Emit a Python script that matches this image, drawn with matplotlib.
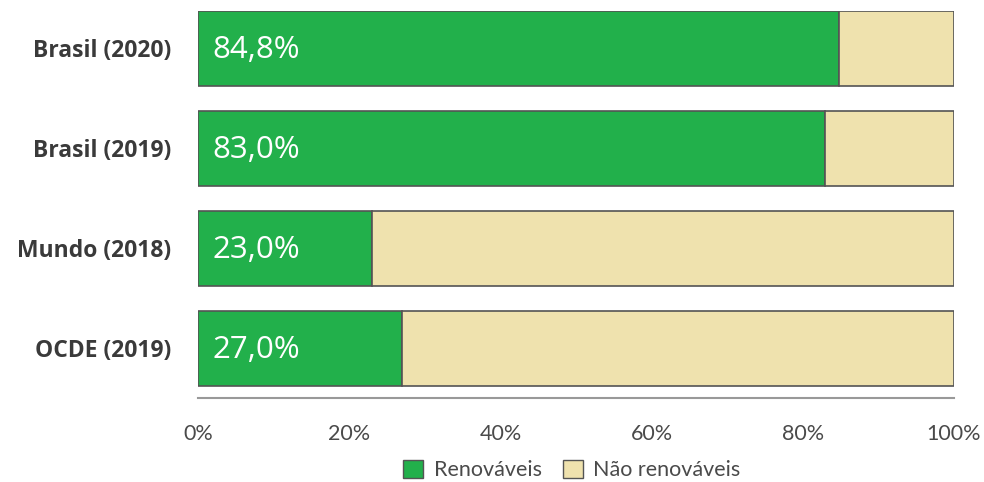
import matplotlib
matplotlib.use("Agg")
import matplotlib.pyplot as plt
from matplotlib.patches import Patch

# Participação de fontes renováveis na matriz elétrica
categories = ["Brasil (2020)", "Brasil (2019)", "Mundo (2018)", "OCDE (2019)"]
renovaveis = [84.8, 83.0, 23.0, 27.0]
nao_renovaveis = [100 - v for v in renovaveis]
value_labels = ["84,8%", "83,0%", "23,0%", "27,0%"]
tick_values = [0, 20, 40, 60, 80, 100]
tick_labels = ["0%", "20%", "40%", "60%", "80%", "100%"]
series_names = ["Renováveis", "Não renováveis"]

GREEN = "#22b04b"
BEIGE = "#efe2ae"
EDGE = "#545454"

fig = plt.figure(figsize=(9.84, 4.82), dpi=100)
ax = fig.add_axes([198 / 984, 1 - 398 / 482, (954 - 198) / 984, (398 - 11) / 482])

y = list(range(len(categories)))
ax.barh(y, renovaveis, height=0.75, color=GREEN, edgecolor=EDGE, linewidth=1.2)
ax.barh(y, nao_renovaveis, left=renovaveis, height=0.75, color=BEIGE,
        edgecolor=EDGE, linewidth=1.2)

for yi, txt in zip(y, value_labels):
    ax.text(1.9, yi + 0.02, txt, color="white", fontsize=22.5, family="Open Sans",
            va="center", ha="left")

ax.set_xlim(0, 100)
ax.set_ylim(3.495, -0.375)
ax.set_yticks(y)
ax.set_yticklabels(categories, fontsize=16.5, fontweight="bold",
                   family="Open Sans", color="#3a3a3a")
ax.set_xticks(tick_values)
ax.set_xticklabels(tick_labels, fontsize=15.5, family="Lato",
                   color="#4a4a4a")
ax.tick_params(axis="both", length=0)
ax.tick_params(axis="x", pad=19)
ax.tick_params(axis="y", pad=19)

for side in ["top", "right", "left"]:
    ax.spines[side].set_visible(False)
ax.spines["bottom"].set_color("#999999")
ax.spines["bottom"].set_linewidth(1.5)

handles = [Patch(facecolor=GREEN, edgecolor=EDGE, linewidth=1),
           Patch(facecolor=BEIGE, edgecolor=EDGE, linewidth=1)]
fig.legend(handles, series_names, loc="center", bbox_to_anchor=(572 / 984, 1 - 470 / 482),
           ncol=2, frameon=False, prop={"family": "Lato", "size": 15.5},
           handlelength=0.9, handleheight=0.9, handletextpad=0.5, columnspacing=1.0,
           labelcolor="#4a4a4a", borderaxespad=0, borderpad=0)

fig.savefig("out.png", dpi=100)
